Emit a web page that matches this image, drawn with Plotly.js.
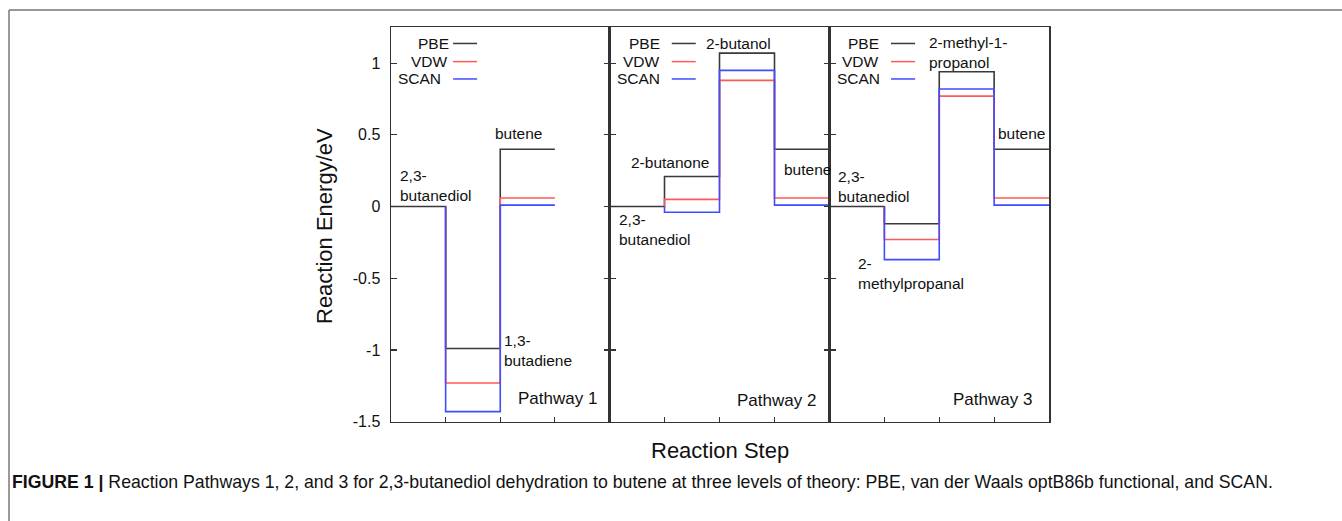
<!DOCTYPE html>
<html>
<head>
<meta charset="utf-8">
<script src="https://cdn.plot.ly/plotly-3.0.1.min.js"></script>
<style>html,body{margin:0;padding:0;background:#fff;}#chart{width:1342px;height:521px;}</style>
</head>
<body>
<div id="chart"></div>
<script>
// ---- data ----
const steps1 = ['2,3-butanediol', '1,3-butadiene', 'butene'];
const pbe1  = [0, -0.99, 0.40];
const vdw1  = [0, -1.23, 0.06];
const scan1 = [0, -1.43, 0.01];

const steps2 = ['2,3-butanediol', '2-butanone', '2-butanol', 'butene'];
const pbe2  = [0, 0.21, 1.07, 0.40];
const vdw2  = [0, 0.05, 0.88, 0.06];
const scan2 = [0, -0.04, 0.95, 0.01];

const steps3 = ['2,3-butanediol', '2-methylpropanal', '2-methyl-1-propanol', 'butene'];
const pbe3  = [0, -0.12, 0.94, 0.40];
const vdw3  = [0, -0.23, 0.77, 0.06];
const scan3 = [0, -0.37, 0.82, 0.01];

const methods = ['PBE', 'VDW', 'SCAN'];
const yTickVals = [-1.5, -1, -0.5, 0, 0.5, 1];
const yTickText = ['-1.5', '-1', '-0.5', '0', '0.5', '1'];
const pathwayNames = ['Pathway 1', 'Pathway 2', 'Pathway 3'];

// ---- styling ----
const colors = {PBE: '#3a3a3a', VDW: '#ff5a5a', SCAN: '#3f4cff'};
const FONT = 'Liberation Sans, Arial, Helvetica, sans-serif';
const AX = '#333333';

const pathways = [
  {steps: steps1, data: {PBE: pbe1, VDW: vdw1, SCAN: scan1}},
  {steps: steps2, data: {PBE: pbe2, VDW: vdw2, SCAN: scan2}},
  {steps: steps3, data: {PBE: pbe3, VDW: vdw3, SCAN: scan3}}
];

const traces = [];
pathways.forEach((pw, p) => {
  const xa = p === 0 ? 'x' : 'x' + (p + 1);
  const ya = p === 0 ? 'y' : 'y' + (p + 1);
  methods.forEach(m => {
    const vals = pw.data[m];
    const n = vals.length;
    let xs, ys;
    if (m === 'PBE') {
      xs = vals.map((v, i) => i).concat([n]);
      ys = vals.concat([vals[n - 1]]);
    } else {
      xs = [1].concat(vals.slice(1).map((v, i) => i + 1)).concat([n]);
      ys = [vals[0]].concat(vals.slice(1)).concat([vals[n - 1]]);
    }
    traces.push({
      type: 'scatter', mode: 'lines', x: xs, y: ys,
      xaxis: xa, yaxis: ya, name: m, showlegend: false,
      line: {shape: 'hv', color: colors[m], width: 1.6},
      hoverinfo: 'skip'
    });
  });
});

// ---- layout ----
const W = 1342, H = 521;
const px = v => v / W, py = v => 1 - v / H;
const yDom = [py(421.7), py(27.3)];
const xDoms = [[px(391), px(609.5)], [px(609.5), px(829.5)], [px(829.5), px(1049)]];

const layout = {
  width: W, height: H,
  margin: {l: 0, r: 0, t: 0, b: 0},
  paper_bgcolor: '#fff', plot_bgcolor: '#fff',
  font: {family: FONT, color: '#111', size: 15},
  showlegend: false,
  annotations: [], shapes: []
};

for (let p = 0; p < 3; p++) {
  const s = p === 0 ? '' : String(p + 1);
  layout['xaxis' + s] = {
    domain: xDoms[p], anchor: 'y' + s, range: [0, 4],
    showline: true, linecolor: AX, linewidth: 1.5, mirror: true,
    ticks: 'inside', tickvals: [1, 2, 3], ticklen: 5, tickcolor: AX, tickwidth: 1.2,
    showticklabels: false, showgrid: false, zeroline: false, fixedrange: true
  };
  layout['yaxis' + s] = {
    domain: yDom, anchor: 'x' + s, range: [-1.5, 1.25],
    showline: true, linecolor: AX, linewidth: 1.5,
    mirror: p < 2 ? 'ticks' : true,
    ticks: 'inside', tickvals: yTickVals, ticktext: yTickText,
    ticklen: 6, tickcolor: AX, tickwidth: 1.2,
    showticklabels: p === 0, ticklabelstandoff: 6,
    tickfont: {size: 16, family: FONT, color: '#111'},
    showgrid: false, zeroline: false, fixedrange: true
  };
}

// legends (text right-aligned, sample line to the right)
const legendPos = [
  {tx: [0.273, 0.270, 0.240], l0: 0.284, l1: 0.394},
  {tx: [0.237, 0.237, 0.237], l0: 0.283, l1: 0.392},
  {tx: [0.235, 0.235, 0.238], l0: 0.280, l1: 0.390}
];
const legRows = [0.959, 0.913, 0.869];
legendPos.forEach((lp, p) => {
  const s = p === 0 ? '' : String(p + 1);
  methods.forEach((m, i) => {
    layout.annotations.push({
      xref: 'x' + s + ' domain', yref: 'y' + s + ' domain',
      x: lp.tx[i], y: legRows[i], xanchor: 'right', yanchor: 'middle',
      text: m, showarrow: false, font: {size: 15.5, family: FONT, color: '#111'}
    });
    layout.shapes.push({
      type: 'line', xref: 'x' + s + ' domain', yref: 'y' + s + ' domain',
      x0: lp.l0, x1: lp.l1, y0: legRows[i], y1: legRows[i],
      line: {color: colors[m], width: 1.5}
    });
  });
});

// species labels (data coords)
const labelSpecs = [
  // panel, x, y, text
  [0, 0.13, 0.144, '2,3-<br>butanediol'],
  [0, 1.86, 0.51, steps1[2]],
  [0, 2.04, -1.007, '1,3-<br>butadiene'],
  [1, 1.72, 1.135, steps2[2]],
  [1, 0.35, 0.307, steps2[1]],
  [1, 3.13, 0.256, steps2[3]],
  [1, 0.13, -0.163, '2,3-<br>butanediol'],
  [2, 1.77, 1.073, '2-methyl-1-<br>propanol'],
  [2, 3.03, 0.512, steps3[3]],
  [2, 0.12, 0.141, '2,3-<br>butanediol'],
  [2, 0.49, -0.468, '2-<br>methylpropanal']
];
labelSpecs.forEach(([p, x, y, t]) => {
  const s = p === 0 ? '' : String(p + 1);
  layout.annotations.push({
    xref: 'x' + s, yref: 'y' + s, x: x, y: y,
    xanchor: 'left', yanchor: 'middle', align: 'left',
    text: t, showarrow: false, font: {size: 15.5, family: FONT, color: '#111'}
  });
});
const pathPos = [[2.29, -1.337], [2.28, -1.349], [2.21, -1.344]];
pathPos.forEach(([x, y], p) => {
  const s = p === 0 ? '' : String(p + 1);
  layout.annotations.push({
    xref: 'x' + s, yref: 'y' + s, x: x, y: y,
    xanchor: 'left', yanchor: 'middle',
    text: pathwayNames[p], showarrow: false, font: {size: 17, family: FONT, color: '#111'}
  });
});

// axis titles
layout.annotations.push({
  xref: 'paper', yref: 'paper', x: px(324), y: py(226), xanchor: 'center', yanchor: 'middle',
  text: 'Reaction Energy/eV', textangle: -90, showarrow: false,
  font: {size: 22, family: FONT, color: '#111'}
});
layout.annotations.push({
  xref: 'paper', yref: 'paper', x: px(720), y: py(450), xanchor: 'center', yanchor: 'middle',
  text: 'Reaction Step', showarrow: false,
  font: {size: 22, family: FONT, color: '#111'}
});
// caption
layout.annotations.push({
  xref: 'paper', yref: 'paper', x: px(10), y: py(482), xanchor: 'left', yanchor: 'middle',
  text: '<b>FIGURE 1 |</b> Reaction Pathways 1, 2, and 3 for 2,3-butanediol dehydration to butene at three levels of theory: PBE, van der Waals optB86b functional, and SCAN.',
  showarrow: false, font: {size: 17.7, family: FONT, color: '#111'}
});
// outer frame
layout.shapes.push({type: 'line', xref: 'paper', yref: 'paper', x0: px(9), x1: 1, y0: py(10), y1: py(10), line: {color: '#777', width: 1.5}});
layout.shapes.push({type: 'line', xref: 'paper', yref: 'paper', x0: px(9), x1: px(9), y0: py(10), y1: 0, line: {color: '#777', width: 1.5}});

Plotly.newPlot('chart', traces, layout, {displayModeBar: false, staticPlot: true});
</script>
</body>
</html>
